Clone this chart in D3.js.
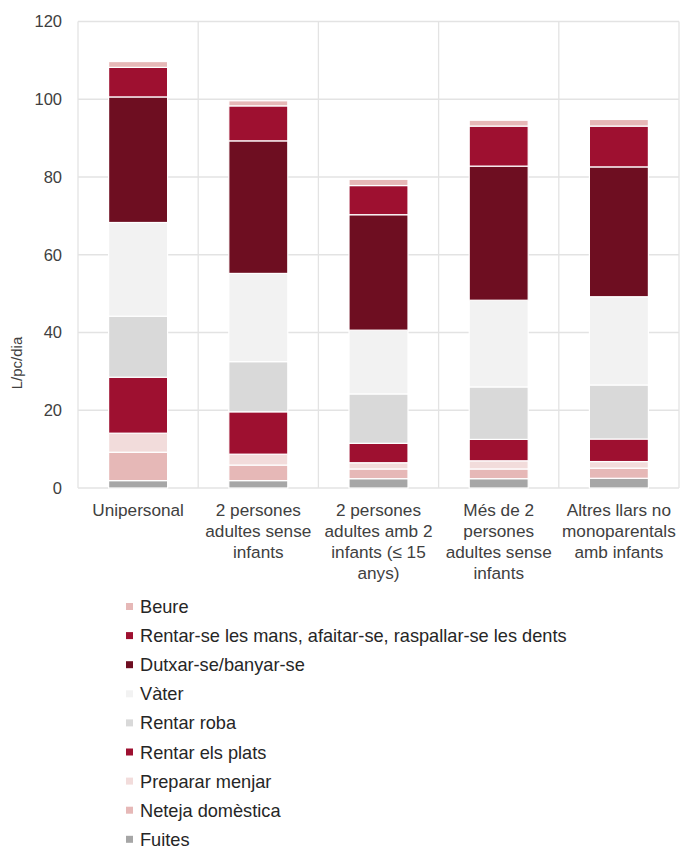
<!DOCTYPE html>
<html>
<head>
<meta charset="utf-8">
<script src="https://cdn.jsdelivr.net/npm/d3@7"></script>
<style>
  body { margin: 0; background: #fff; }
  svg { display: block; font-family: "Liberation Sans", Arial, sans-serif; }
  .tick text { fill: #404040; }
</style>
</head>
<body>
<div id="chart"></div>
<script>
// categories (x axis), each label split into lines
var categories = [
    ['Unipersonal'],
    ['2 persones', 'adultes sense', 'infants'],
    ['2 persones', 'adultes amb 2', 'infants (≤ 15', 'anys)'],
    ['Més de 2', 'persones', 'adultes sense', 'infants'],
    ['Altres llars no', 'monoparentals', 'amb infants']
];
// series from bottom of the stack to top
var series_names = ['Fuites', 'Neteja domèstica', 'Preparar menjar', 'Rentar els plats', 'Rentar roba',
    'Vàter', 'Dutxar-se/banyar-se', 'Rentar-se les mans, afaitar-se, raspallar-se les dents', 'Beure'];
var series_colors = ['#a6a6a6', '#e6b8b7', '#f2dcdb', '#9e1030', '#d9d9d9',
    '#f2f2f2', '#6e0e21', '#9e1030', '#e6b8b7'];
// L/pc/dia per category, same order as categories
var fuites   = [1.9, 1.9, 2.4, 2.4, 2.5];
var neteja   = [7.3, 4.0, 2.5, 2.5, 2.6];
var preparar = [4.9, 2.8, 1.6, 2.1, 1.7];
var plats    = [14.4, 10.9, 5.0, 5.5, 5.8];
var roba     = [15.7, 12.9, 12.7, 13.5, 13.9];
var vater    = [24.1, 22.7, 16.4, 22.3, 22.7];
var dutxar   = [32.3, 34.1, 29.7, 34.5, 33.4];
var mans     = [7.6, 9.0, 7.5, 10.3, 10.5];
var beure    = [1.5, 1.3, 1.6, 1.5, 1.7];
var series_values = [fuites, neteja, preparar, plats, roba, vater, dutxar, mans, beure];
var y_ticks = [0, 20, 40, 60, 80, 100, 120];

var W = 681, H = 847;
var margin = {left: 78, right: 2, top: 21.5, bottom: 359};
var svg = d3.select('#chart').append('svg').attr('width', W).attr('height', H);

var x_scale = d3.scaleBand().domain(d3.range(categories.length))
    .range([margin.left, W - margin.right]);
var y_scale = d3.scaleLinear().domain([0, 120]).range([H - margin.bottom, margin.top]);

// grid: horizontal lines + category separators
var grid = svg.append('g').attr('stroke', '#e3e3e3').attr('stroke-width', 1.3);
y_ticks.forEach(t => {
    grid.append('line').attr('x1', margin.left).attr('x2', W - margin.right)
        .attr('y1', y_scale(t)).attr('y2', y_scale(t));
});
d3.range(categories.length + 1).forEach(i => {
    var xx = i < categories.length ? x_scale(i) : x_scale(i - 1) + x_scale.bandwidth();
    grid.append('line').attr('x1', xx).attr('x2', xx)
        .attr('y1', y_scale(120)).attr('y2', y_scale(0));
});

// y axis labels
var y_axis = svg.append('g').attr('transform', 'translate(' + margin.left + ',0)')
    .call(d3.axisLeft(y_scale).tickValues(y_ticks).tickSize(0).tickPadding(16));
y_axis.select('.domain').remove();
y_axis.selectAll('text').attr('font-size', 16.5).attr('fill', '#404040');

svg.append('text').attr('transform', 'translate(22,363) rotate(-90)')
    .attr('text-anchor', 'middle').attr('font-size', 15).attr('fill', '#404040')
    .text('L/pc/dia');

// stacked bars
var bar_w = 59;
var stacked = categories.map((c, k) => {
    var acc = 0;
    return series_values.map((s, j) => {
        var seg = {cat: k, series: j, y0: acc, y1: acc + s[k]};
        acc += s[k];
        return seg;
    });
});
var bars = svg.append('g');
stacked.forEach(col => {
    col.forEach(seg => {
        bars.append('rect')
            .attr('x', x_scale(seg.cat) + x_scale.bandwidth() / 2 - bar_w / 2)
            .attr('y', y_scale(seg.y1))
            .attr('width', bar_w)
            .attr('height', y_scale(seg.y0) - y_scale(seg.y1))
            .attr('fill', series_colors[seg.series])
            .attr('stroke', '#fff').attr('stroke-width', 1.2);
    });
});

// category labels
var cat_g = svg.append('g');
categories.forEach((lines, k) => {
    var t = cat_g.append('text').attr('text-anchor', 'middle')
        .attr('font-size', 17.2).attr('fill', '#404040');
    lines.forEach((ln, i) => {
        t.append('tspan').attr('x', x_scale(k) + x_scale.bandwidth() / 2)
            .attr('y', 516 + i * 21).text(ln);
    });
});

// legend, top entry is last series
var legend = svg.append('g');
series_names.slice().reverse().forEach((name, i) => {
    var idx = series_names.length - 1 - i;
    var ly = 607 + i * 29.1;
    legend.append('rect').attr('x', 126).attr('y', ly - 4).attr('width', 7).attr('height', 7)
        .attr('fill', series_colors[idx]);
    legend.append('text').attr('x', 140).attr('y', ly + 6)
        .attr('font-size', 18.2).attr('fill', '#262626').text(name);
});
</script>
</body>
</html>
